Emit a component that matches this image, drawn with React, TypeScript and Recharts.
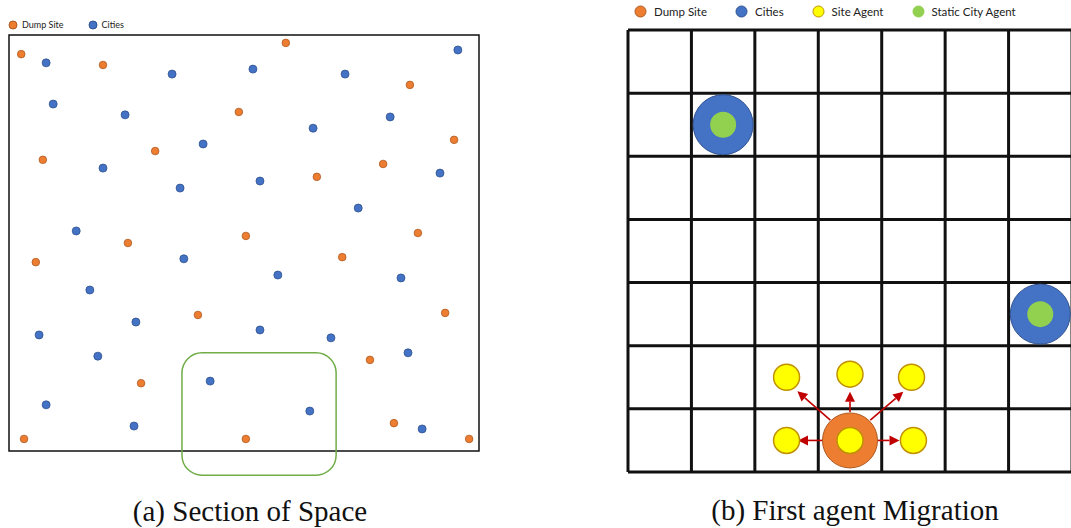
import React from "react";
import {
  Legend,
  ReferenceArea,
  ReferenceLine,
  Scatter,
  ScatterChart,
  XAxis,
  YAxis,
} from "recharts";

// (a) section of space, both axes 0-100
const dumpSitesA = [
  { x: 2.6, y: 95.4 }, { x: 20.0, y: 92.8 }, { x: 58.9, y: 98.1 }, { x: 85.3, y: 88.0 },
  { x: 48.9, y: 81.5 }, { x: 94.7, y: 74.8 }, { x: 7.2, y: 70.0 }, { x: 31.1, y: 72.1 },
  { x: 79.6, y: 69.0 }, { x: 65.5, y: 65.9 }, { x: 25.3, y: 50.0 }, { x: 50.4, y: 51.7 },
  { x: 87.0, y: 52.4 }, { x: 5.7, y: 45.4 }, { x: 70.9, y: 46.6 }, { x: 40.2, y: 32.7 },
  { x: 92.8, y: 33.2 }, { x: 76.8, y: 21.9 }, { x: 28.1, y: 16.3 }, { x: 81.9, y: 6.7 },
  { x: 50.4, y: 2.9 }, { x: 3.2, y: 2.9 }, { x: 97.9, y: 2.9 },
];
const citiesA = [
  { x: 7.9, y: 93.3 }, { x: 34.7, y: 90.6 }, { x: 51.9, y: 91.8 }, { x: 71.5, y: 90.6 },
  { x: 95.5, y: 96.4 }, { x: 9.4, y: 83.4 }, { x: 24.7, y: 80.8 }, { x: 64.7, y: 77.6 },
  { x: 81.1, y: 80.3 }, { x: 41.3, y: 73.8 }, { x: 20.0, y: 68.0 }, { x: 36.4, y: 63.2 },
  { x: 53.4, y: 64.9 }, { x: 91.7, y: 66.8 }, { x: 74.3, y: 58.4 }, { x: 14.3, y: 52.9 },
  { x: 37.2, y: 46.2 }, { x: 57.2, y: 42.3 }, { x: 83.4, y: 41.6 }, { x: 17.2, y: 38.7 },
  { x: 27.0, y: 31.0 }, { x: 53.4, y: 29.1 }, { x: 6.4, y: 27.9 }, { x: 68.5, y: 27.2 },
  { x: 18.9, y: 22.8 }, { x: 84.9, y: 23.6 }, { x: 42.8, y: 16.8 }, { x: 7.9, y: 11.1 },
  { x: 64.0, y: 9.6 }, { x: 26.6, y: 6.0 }, { x: 87.9, y: 5.3 },
];
const focusBox = { x1: 36.8, x2: 69.6, y1: -5.8, y2: 23.6 };

// (b) 7x7 grid, cell centres on .5
const gridTicks = [0, 1, 2, 3, 4, 5, 6, 7];
const dumpSitesB = [{ x: 3.5, y: 0.5 }];
const citiesB = [{ x: 1.5, y: 5.5 }, { x: 6.5, y: 2.5 }];
const siteAgents = [
  { x: 3.5, y: 0.5 }, { x: 2.5, y: 1.5 }, { x: 3.5, y: 1.55 }, { x: 4.47, y: 1.5 },
  { x: 2.5, y: 0.5 }, { x: 4.5, y: 0.5 },
];
const cityAgents = [{ x: 1.5, y: 5.5 }, { x: 6.5, y: 2.5 }];
const migrations = [
  [{ x: 3.08, y: 0.5 }, { x: 2.68, y: 0.5 }],
  [{ x: 3.5, y: 0.95 }, { x: 3.5, y: 1.27 }],
  [{ x: 3.19, y: 0.82 }, { x: 2.67, y: 1.28 }],
  [{ x: 3.82, y: 0.82 }, { x: 4.34, y: 1.27 }],
  [{ x: 3.93, y: 0.5 }, { x: 4.28, y: 0.5 }],
];
const captions = ["(a) Section of Space", "(b) First agent Migration"];

const swatch: Record<string, { fill: string; stroke: string }> = {
  "Dump Site": { fill: "#ED7D31", stroke: "#AE5A21" },
  Cities: { fill: "#4472C4", stroke: "#2F528F" },
  "Site Agent": { fill: "#FFFF00", stroke: "#BF9000" },
  "Static City Agent": { fill: "#92D050", stroke: "#92D050" },
};
const legendOrder = ["Dump Site", "Cities", "Site Agent", "Static City Agent"];

const dot = (r: number, name: string, sw = 1) => (p: any) => (
  <circle cx={p.cx} cy={p.cy} r={r} fill={swatch[name].fill} stroke={swatch[name].stroke} strokeWidth={sw} />
);

function Arrow(p: any) {
  const { x1, y1, x2, y2 } = p;
  const dx = x2 - x1;
  const dy = y2 - y1;
  const len = Math.hypot(dx, dy) || 1;
  const ux = dx / len;
  const uy = dy / len;
  const head = 10;
  const half = 5;
  const bx = x2 - ux * head;
  const by = y2 - uy * head;
  return (
    <g>
      <line x1={x1} y1={y1} x2={bx} y2={by} stroke="#C00000" strokeWidth={1.6} />
      <polygon
        points={`${x2},${y2} ${bx - uy * half},${by + ux * half} ${bx + uy * half},${by - ux * half}`}
        fill="#C00000"
      />
    </g>
  );
}

function legendContent(size: number, fontSize: number, gap: number, spacing: number) {
  return (props: any) => {
    const items = [...(props.payload ?? [])].sort(
      (a: any, b: any) => legendOrder.indexOf(a.value) - legendOrder.indexOf(b.value)
    );
    return (
      <div style={{ display: "flex", alignItems: "center", fontFamily: "Lato, 'Open Sans', sans-serif", fontSize, color: "#222" }}>
        {items.map((it: any) => (
          <div key={it.value} style={{ display: "flex", alignItems: "center", marginRight: spacing }}>
            <svg width={size + 2} height={size + 2} style={{ marginRight: gap }}>
              <circle
                cx={size / 2 + 1}
                cy={size / 2 + 1}
                r={size / 2}
                fill={swatch[it.value].fill}
                stroke={swatch[it.value].stroke}
                strokeWidth={1}
              />
            </svg>
            <span>{it.value}</span>
          </div>
        ))}
      </div>
    );
  };
}

export default function App() {
  return (
    <div style={{ position: "absolute", left: 0, top: 0, width: 1071, height: 528, background: "#fff", overflow: "hidden" }}>
      <div style={{ position: "absolute", left: 0, top: 0 }}>
        <ScatterChart width={490} height={528} margin={{ top: 35, right: 11, bottom: 77, left: 9 }}>
          <XAxis type="number" dataKey="x" domain={[0, 100]} hide />
          <YAxis type="number" dataKey="y" domain={[0, 100]} hide />
          <ReferenceArea x1={0} x2={100} y1={0} y2={100} fill="none" stroke="#111" strokeWidth={1.5} ifOverflow="visible" />
          <ReferenceArea
            {...focusBox}
            ifOverflow="visible"
            shape={(p: any) => (
              <rect x={p.x} y={p.y} width={p.width} height={p.height} rx={20} fill="none" stroke="#70AD47" strokeWidth={1.5} />
            )}
          />
          <Scatter name="Dump Site" data={dumpSitesA} fill={swatch["Dump Site"].fill} shape={dot(3.8, "Dump Site", 0.8)} isAnimationActive={false} />
          <Scatter name="Cities" data={citiesA} fill={swatch.Cities.fill} shape={dot(4, "Cities", 0.8)} isAnimationActive={false} />
          <Legend
            layout="vertical"
            align="center"
            verticalAlign="middle"
            wrapperStyle={{ left: 8, top: 19, width: 200, height: 18 }}
            content={legendContent(8, 9, 4, 24)}
          />
        </ScatterChart>
      </div>

      <div style={{ position: "absolute", left: 600, top: 0 }}>
        <ScatterChart width={472} height={528} margin={{ top: 30, right: 0, bottom: 56, left: 28 }}>
          <XAxis type="number" dataKey="x" domain={[0, 7]} hide />
          <YAxis type="number" dataKey="y" domain={[0, 7]} hide />
          {gridTicks.map((t) => (
            <ReferenceLine key={`v${t}`} x={t} stroke="#111" strokeWidth={3} ifOverflow="visible" />
          ))}
          {gridTicks.map((t) => (
            <ReferenceLine key={`h${t}`} y={t} stroke="#111" strokeWidth={3} ifOverflow="visible" />
          ))}
          {migrations.map((seg, i) => (
            <ReferenceLine key={i} segment={seg} shape={(p: any) => <Arrow {...p} />} />
          ))}
          <Scatter name="Dump Site" data={dumpSitesB} fill={swatch["Dump Site"].fill} shape={dot(27.5, "Dump Site")} isAnimationActive={false} />
          <Scatter name="Cities" data={citiesB} fill={swatch.Cities.fill} shape={dot(30, "Cities")} isAnimationActive={false} />
          <Scatter name="Site Agent" data={siteAgents} fill={swatch["Site Agent"].fill} shape={dot(13, "Site Agent", 1.5)} isAnimationActive={false} />
          <Scatter name="Static City Agent" data={cityAgents} fill={swatch["Static City Agent"].fill} shape={dot(13, "Static City Agent", 0)} isAnimationActive={false} />
          <Legend
            layout="vertical"
            align="center"
            verticalAlign="middle"
            wrapperStyle={{ left: 34, top: 5, width: 440, height: 22 }}
            content={legendContent(11, 11.5, 7, 28)}
          />
        </ScatterChart>
      </div>

      <svg width={1071} height={528} style={{ position: "absolute", left: 0, top: 0, pointerEvents: "none" }}>
        <text x={250} y={521} textAnchor="middle" fontFamily="'Liberation Serif', serif" fontSize={29} fill="#111">
          {captions[0]}
        </text>
        <text x={855} y={520} textAnchor="middle" fontFamily="'Liberation Serif', serif" fontSize={29} fill="#111">
          {captions[1]}
        </text>
      </svg>
    </div>
  );
}
